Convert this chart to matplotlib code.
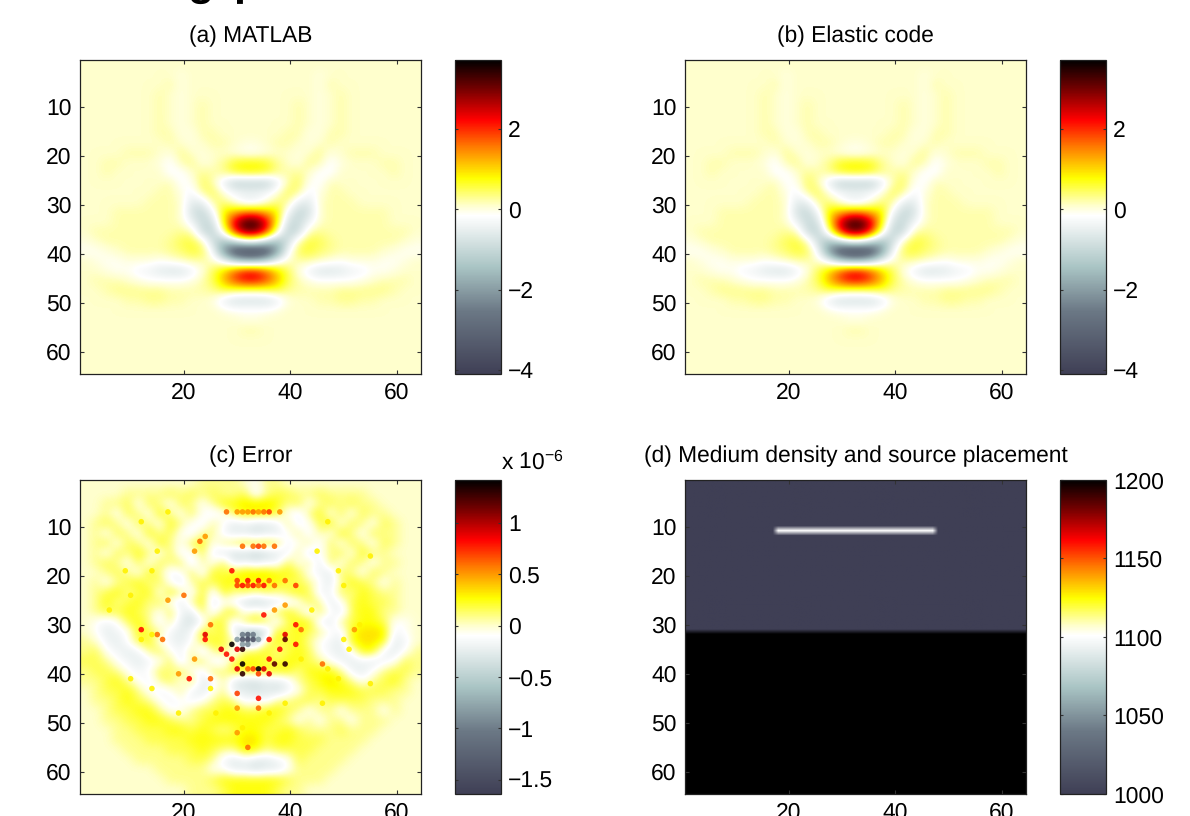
import numpy as np
import matplotlib
matplotlib.use("Agg")
import matplotlib.pyplot as plt
from matplotlib.colors import LinearSegmentedColormap

plt.rcParams["font.family"] = ["Liberation Sans", "DejaVu Sans"]
plt.rcParams["mathtext.default"] = "regular"
plt.rcParams["text.hinting"] = "none"

### data
titles = ["(a) MATLAB", "(b) Elastic code", "(c) Error", "(d) Medium density and source placement"]
x_ticks = [20, 40, 60]
y_ticks = [10, 20, 30, 40, 50, 60]

wave_ticks = [-4, -2, 0, 2]
wave_limits = (-4.1, 3.72)
error_ticks = [-1.5, -1, -0.5, 0, 0.5, 1]
error_tick_labels = ["\u22121.5", "\u22121", "\u22120.5", "0", "0.5", "1"]
error_limits = (-1.64, 1.42)
density_ticks = [1000, 1050, 1100, 1150, 1200]
density_limits = (1000, 1200)

# left half of the wave field, 2 x 2 cells, in tenths
wave_half = [
    [1, 1, 1, 1, 1, 1, 1, 1, 1, 1, 1, 1, 1, 1, 1, 1],
    [1, 1, 1, 1, 1, 1, 1, 1, 1, 0, 1, 1, 1, 1, 1, 1],
    [1, 1, 1, 1, 1, 1, 1, 1, 2, 0, 1, 1, 1, 1, 1, 1],
    [1, 1, 1, 1, 1, 1, 1, 2, 1, 0, 1, 1, 1, 1, 1, 1],
    [1, 1, 1, 1, 1, 1, 1, 2, 1, 0, 1, 2, 1, 1, 1, 1],
    [1, 1, 1, 1, 1, 1, 1, 2, 1, 0, 1, 2, 1, 1, 1, 1],
    [1, 1, 1, 1, 1, 1, 1, 2, 1, 0, 1, 2, 1, 1, 1, 1],
    [1, 1, 1, 1, 1, 1, 1, 2, 2, 0, 0, 2, 2, 1, 1, 1],
    [1, 1, 1, 1, 1, 1, 1, 1, 2, 1, 0, 1, 2, 2, 1, 0],
    [1, 1, 1, 1, 2, 2, 2, 1, 0, 3, 1, 0, 1, 1, 0, -1],
    [1, 1, 2, 2, 1, 1, 1, 0, -2, 2, 3, 0, 1, 3, 7, 8],
    [1, 1, 2, 1, 1, 1, 1, 1, -2, -2, 1, 3, 2, 3, 6, 7],
    [1, 1, 1, 1, 1, 1, 1, 1, 2, -2, -1, 5, 2, -5, -11, -11],
    [1, 1, 1, 1, 1, 1, 1, 2, 2, 0, -3, 3, 5, 0, -3, -4],
    [1, 1, 1, 1, 1, 1, 2, 2, 2, 1, -6, -5, 3, 4, 0, -4],
    [1, 1, 1, 2, 2, 2, 2, 2, 2, 1, -8, -10, -3, 9, 12, 15],
    [1, 1, 1, 2, 2, 2, 2, 2, 2, 1, -4, -10, -8, 8, 24, 34],
    [1, 2, 2, 2, 2, 2, 2, 2, 2, 3, 2, -9, -11, 2, 20, 30],
    [0, 1, 2, 2, 2, 2, 2, 2, 3, 5, 6, 2, -9, -15, -10, -4],
    [-1, -1, 0, 1, 2, 2, 2, 2, 3, 4, 6, 5, -3, -20, -34, -38],
    [1, 0, -1, -1, 0, 0, 0, -1, 0, 1, 2, 2, 1, -3, -10, -14],
    [1, 1, 0, -1, -1, -3, -4, -6, -7, -7, -4, 0, 5, 10, 17, 22],
    [1, 2, 2, 2, 1, 0, -1, -1, -1, -1, 0, 2, 5, 12, 18, 22],
    [1, 1, 2, 3, 3, 3, 3, 3, 2, 2, 2, 2, 3, 5, 4, 3],
    [1, 1, 1, 1, 2, 2, 3, 3, 2, 2, 1, 1, 0, -5, -8, -8],
    [1, 1, 1, 1, 1, 1, 1, 1, 1, 1, 1, 1, 1, 0, -1, -1],
    [1, 1, 1, 1, 1, 1, 1, 1, 1, 1, 1, 1, 1, 1, 1, 0],
    [1, 1, 1, 1, 1, 1, 1, 1, 1, 1, 1, 1, 1, 1, 1, 2],
    [1, 1, 1, 1, 1, 1, 1, 1, 1, 1, 1, 1, 1, 1, 1, 1],
    [1, 1, 1, 1, 1, 1, 1, 1, 1, 1, 1, 1, 1, 1, 1, 1],
    [1, 1, 1, 1, 1, 1, 1, 1, 1, 1, 1, 1, 1, 1, 1, 1],
    [1, 1, 1, 1, 1, 1, 1, 1, 1, 1, 1, 1, 1, 1, 1, 1],
]

# error map background, 2 x 2 cells, twelfths of 1e-6
error_base = [
    [0, 0, 0, 0, 0, 0, 0, 0, 0, 0, 0, 1, 1, 1, 1, 0, -1, 1, 1, 0, 0, 0, 0, 0, 0, 0, 0, 0, 0, 0, 0, 0],
    [0, 0, 0, 0, 1, 1, 1, 1, 2, 1, 2, 1, 2, 1, 1, 2, -2, 1, 2, 2, 1, 1, 2, 1, 1, 1, 1, 0, 0, 0, 0, 0],
    [0, 0, 1, 1, 2, -1, 2, 1, -1, 2, 1, -1, 1, 3, 3, 4, 4, 4, 3, 1, 2, -1, 1, 2, 1, 2, 1, 1, 0, 0, 0, 0],
    [0, 0, 1, -1, 2, 1, -1, 3, 1, -1, 2, -1, -2, -1, 2, 3, 3, 3, 2, -1, -2, 1, 3, -1, 2, -1, 2, 1, 1, 0, 0, 0],
    [0, 1, 2, 1, -1, 2, 1, -1, 3, 1, -1, -2, 1, -1, -3, -2, -3, -3, -2, 1, -2, -1, 2, 3, -1, 2, 1, -1, 2, 1, 0, 0],
    [0, 1, -1, 2, 1, -1, 3, 1, 2, -1, -2, 1, 1, -2, -3, -3, -4, -3, -3, -1, 1, -2, 1, -1, 3, 1, -1, 2, 1, 1, 0, 0],
    [0, 1, 2, -1, 2, 1, -1, 3, 1, -1, 2, 3, -1, 1, 2, 3, 3, 3, 2, -2, -1, 1, -2, 2, -1, 2, 1, -1, 2, 1, 0, 0],
    [0, 1, -1, 2, 1, 3, 1, -1, 2, -2, -1, 2, -2, -3, -4, -4, -5, -4, -3, -2, 1, -3, -1, 1, 2, -1, 3, 1, 1, 0, 0, 0],
    [0, 1, 2, 1, -1, 2, -1, 2, 1, 2, -3, 1, -1, 2, -3, -2, -3, -2, -2, 2, -1, 1, -3, 2, -1, 2, 1, -1, 1, 1, 0, 0],
    [0, 0, 1, 2, 1, -1, 3, 1, -2, -1, 2, -2, 3, 2, 3, 4, 4, 4, 3, 3, 2, -1, -2, -3, 2, 1, -1, 2, 1, 0, 0, 0],
    [0, 1, -1, 1, 2, 3, 1, 2, -1, -3, 1, 2, 2, 3, 3, 3, 3, 3, 3, 2, 2, 1, -1, -3, 1, 3, 2, 1, -1, 1, 0, 0],
    [0, 1, 2, 3, 1, 2, 3, -1, 3, 1, -2, 3, -2, 3, 1, 2, 1, 2, 1, 2, 3, 2, -2, -2, 2, 1, 3, 2, 1, 1, 0, 0],
    [0, 1, 3, 1, 2, 3, 1, 2, -1, -3, 1, 3, -3, -1, -2, -4, -5, -4, -3, -2, -1, 2, 1, -3, -1, 2, 3, 2, 2, 1, 0, 0],
    [0, 1, 2, 2, 3, 2, 1, -1, 2, -2, -3, 2, -2, 2, 3, -1, 1, -1, 2, 3, 1, -2, 2, -1, -3, 2, 3, 3, 1, 1, 0, 0],
    [0, -1, -2, -1, 2, 3, 1, -2, 1, -3, -4, -2, 3, 2, -2, 2, 3, 2, -2, 2, 3, 3, -2, -3, 1, 2, 3, 3, 2, -1, -1, 0],
    [0, -1, -3, -2, -1, 3, 2, 1, -2, -3, -2, 3, 1, 3, -3, -5, -6, -4, 3, 2, 3, 2, 1, -1, -2, 3, 4, 4, 4, -2, -1, 0],
    [1, 0, -2, -3, -1, 2, 3, -1, -2, -3, -1, 2, 3, 2, 1, -6, -6, 1, 3, 2, 3, 1, -1, -2, -3, 3, 4, 4, 3, -3, -2, 0],
    [1, 2, -1, -2, -3, -2, 1, 2, -1, -2, 1, -3, 1, 2, -2, 2, 2, 3, 1, 2, 3, 2, -1, -2, -3, -1, 3, 3, -2, -3, -1, 1],
    [2, 2, 1, -1, -2, -3, -2, -1, 2, -3, 1, 2, -2, -2, 2, 3, 3, 2, 2, 3, 3, 2, 1, -1, -2, -3, -2, -3, -2, -1, 2, 1],
    [1, 2, 2, 1, -1, -2, -1, 2, 1, 2, -1, -2, 2, 1, 3, 3, 3, 3, 3, 3, 1, 3, 3, 3, 1, -2, -3, -1, 1, 2, 2, 1],
    [1, 1, 2, 3, 1, -1, -2, 1, 2, -1, 2, -3, -2, 1, -3, -4, -4, -3, -3, -2, 1, 2, 3, 4, 3, 1, -1, 1, 2, 3, 1, 0],
    [0, 1, 2, 2, 3, 1, -1, -2, -1, 1, -2, -3, -1, 1, -3, -3, -4, -3, -4, -2, -1, 2, 2, 3, 3, 3, 2, 2, 2, 1, 1, 0],
    [0, 1, 1, 2, 3, 2, 1, -1, -2, -1, -2, -1, 1, 2, 1, -2, -1, -2, 1, 1, 2, 2, 1, 2, 2, 2, 2, 1, 1, 1, 0, 0],
    [0, 0, 1, 2, 2, 3, 3, 1, -1, -1, 1, 2, 2, 3, 3, 2, 2, 3, 3, 2, 1, -1, 1, 1, -1, 1, 1, 1, -1, 1, 0, 0],
    [0, 0, 1, 1, 2, 2, 3, 3, 2, 1, 1, 2, 3, 3, 3, 3, 3, 3, 2, 1, -1, 1, -1, 1, 1, -1, 1, 1, 1, 0, 0, 0],
    [0, 0, 0, 1, 1, 2, 2, 2, 3, 3, 2, 3, 2, 1, 2, 3, 3, 2, 2, 3, 2, 1, 1, 1, 2, 1, 1, 1, 0, 0, 0, 0],
    [0, 0, 0, 1, 1, 1, 2, 2, 2, 2, 3, 3, 3, 3, 3, 4, 4, 2, 3, 3, 2, 2, 2, 1, 1, 1, 1, 0, 0, 0, 0, 0],
    [0, 0, 0, 0, 1, 1, 1, 1, 2, 2, 2, 3, 2, 1, 1, 4, 3, 1, 2, 2, 2, 2, 1, 1, 1, 1, 0, 0, 0, 0, 0, 0],
    [0, 0, 0, 0, 0, 1, 1, 1, 1, 1, 2, 2, 1, -2, -3, -2, -3, -3, -2, -1, 2, 1, 1, 1, 1, 0, 0, 0, 0, 0, 0, 0],
    [0, 0, 0, 0, 0, 0, 0, 1, 1, 1, 1, 1, -1, -1, -3, -3, -4, -3, -3, -1, 1, 1, 1, 1, 0, 0, 0, 0, 0, 0, 0, 0],
    [0, 0, 0, 0, 0, 0, 0, 0, 1, 1, 1, 1, 2, 3, 3, 3, 3, 3, 3, 2, 1, 1, 1, 0, 0, 0, 0, 0, 0, 0, 0, 0],
    [0, 0, 0, 0, 0, 0, 0, 0, 0, 0, 1, 1, 1, 2, 3, 3, 3, 3, 2, 1, 1, 0, 0, 0, 0, 0, 0, 0, 0, 0, 0, 0],
]

# single hot cells of the error map: column, row, tenths of 1e-6
error_hot = [
    (28, 7, 6), (30, 7, 5), (31, 7, 5), (32, 7, 5), (33, 7, 6), (34, 7, 5), (35, 7, 6), (36, 7, 7), (38, 7, 5),
    (31, 14, 6), (33, 14, 6), (34, 14, 7), (35, 14, 6), (37, 14, 6),
    (22, 15, 5), (23, 13, 6), (24, 12, 5),
    (29, 19, 8), (30, 21, 7), (31, 22, 8), (32, 21, 8), (33, 22, 8), (34, 21, 8), (35, 22, 8), (36, 21, 6), (37, 22, 6),
    (39, 21, 6), (41, 22, 7), (30, 22, 7), (32, 22, 7), (34, 22, 6),
    (12, 31, 8), (15, 32, 6), (16, 33, 6), (20, 24, 6), (17, 25, 5),
    (24, 32, 9), (24, 33, 8), (25, 30, 6), (35, 28, 8), (37, 27, 5), (39, 26, 5),
    (39, 32, 9), (39, 33, 12), (42, 31, 6), (41, 30, 8), (41, 34, 8),
    (29, 34, 14), (31, 35, 13), (30, 35, 9), (27, 35, 9), (28, 36, 8), (29, 37, 8),
    (31, 38, 14), (30, 39, 9), (31, 40, 13), (32, 39, 6), (33, 39, 7), (34, 39, 14), (35, 39, 9), (36, 40, 9), (36, 37, 8),
    (37, 38, 12), (39, 38, 13), (38, 35, 8), (36, 33, 8), (34, 40, 7),
    (46, 38, 6), (22, 37, 5), (19, 40, 5), (21, 41, 8), (25, 41, 6), (30, 44, 7), (34, 45, 8), (30, 47, 5), (34, 47, 6),
    (30, 52, 5), (32, 55, 6), (52, 31, 5),
    (31, 32, -10), (32, 32, -12), (33, 32, -10), (30, 33, -8), (31, 33, -14), (32, 33, -15), (33, 33, -14), (34, 33, -8),
    (31, 34, -8), (32, 34, -9),
    (17, 7, 3), (12, 9, 3), (15, 15, 3), (14, 19, 3), (9, 19, 3), (10, 24, 3), (6, 27, 3), (47, 9, 3), (45, 15, 3),
    (49, 19, 3), (50, 22, 3), (55, 16, 3), (44, 27, 3), (47, 39, 3), (49, 41, 3), (55, 42, 3), (42, 37, 3), (39, 46, 3),
    (25, 43, 3), (26, 48, 3), (31, 51, 3), (36, 48, 3), (14, 43, 3), (10, 41, 3), (19, 48, 3), (46, 46, 3), (12, 33, 3),
    (14, 32, 3), (50, 33, 3), (51, 35, 3), (53, 30, 3),
]

# medium density
density_top = 1000
density_bottom = 1200
density_source = 1100
layer_row = 31
source_row = 11
source_cols = (18, 47)

color_positions = [0, 0.2, 0.34, 0.47, 0.505, 0.537, 0.624, 0.72, 0.81, 0.9, 1]
color_values = ["#3f3f55", "#6b7885", "#a9c4c4", "#eef3f3", "#ffffff", "#ffffcc", "#ffff00",
                "#ff8000", "#ff0000", "#800000", "#000000"]

### build the fields
wave_half = np.array(wave_half) / 10
wave = np.hstack([wave_half, wave_half[:, ::-1]])

error = np.array(error_base) / 12
hot_cols, hot_rows, hot_vals = np.array(error_hot).T

density = np.full((64, 64), density_top, dtype=float)
density[layer_row:, :] = density_bottom
density[source_row - 1, source_cols[0] - 1:source_cols[1]] = density_source

cmap = LinearSegmentedColormap.from_list("wave", list(zip(color_positions, color_values)), N=512)

### figure
W, H = 1190, 816
fig = plt.figure(figsize=(W / 100, H / 100), dpi=100)


def box(x0, x1, y0, y1):
    return [x0 / W, 1 - y1 / H, (x1 - x0) / W, (y1 - y0) / H]


def panel(x0, y0, field, limits, title, ticks, labels=None, interp="bicubic", stage="data"):
    ax = fig.add_axes(box(x0, x0 + 341, y0, y0 + 314))
    im = ax.imshow(field, cmap=cmap, vmin=limits[0], vmax=limits[1], aspect="auto",
                   extent=(0.5, 64.5, 64.5, 0.5), interpolation=interp, interpolation_stage=stage)
    ax.set_xticks(x_ticks)
    ax.set_yticks(y_ticks)
    ax.tick_params(direction="in", top=True, right=True, length=3, width=0.8, color="#333333",
                   labelsize=16.5, pad=6)
    ax.set_title(title, fontsize=16.4, pad=13)
    cax = fig.add_axes(box(x0 + 375, x0 + 421, y0, y0 + 314))
    cb = fig.colorbar(im, cax=cax)
    cb.set_ticks(ticks)
    if labels:
        cb.set_ticklabels(labels)
    cax.tick_params(direction="in", left=True, right=True, length=2, width=0.8, color="#333333",
                    labelsize=16.5, pad=5)
    for a in (ax, cax):
        for s in a.spines.values():
            s.set_linewidth(0.9)
            s.set_color("#222222")
    return ax, cax


panel(80, 60, wave, wave_limits, titles[0], wave_ticks)
panel(685, 60, wave, wave_limits, titles[1], wave_ticks)
ax_c, _ = panel(80, 480, error, error_limits, titles[2], error_ticks, error_tick_labels)
ax_c.scatter(hot_cols, hot_rows, c=hot_vals / 10, cmap=cmap, vmin=error_limits[0], vmax=error_limits[1],
             s=16, marker="o", linewidths=0, alpha=0.9)
panel(685, 480, density, density_limits, titles[3], density_ticks, None, "bilinear", "rgba")

fig.text(501 / W, 1 - 469 / H, "x 10$^{-6}$", fontsize=16.4, ha="left", va="baseline")
# bottom of the cut off heading
fig.text(187 / W, 1 + 5 / H, "g", fontsize=31, fontweight="bold", ha="left", va="baseline")
fig.text(233 / W, 1 + 5 / H, "p", fontsize=31, fontweight="bold", ha="left", va="baseline")

fig.savefig("out.png", dpi=100)
